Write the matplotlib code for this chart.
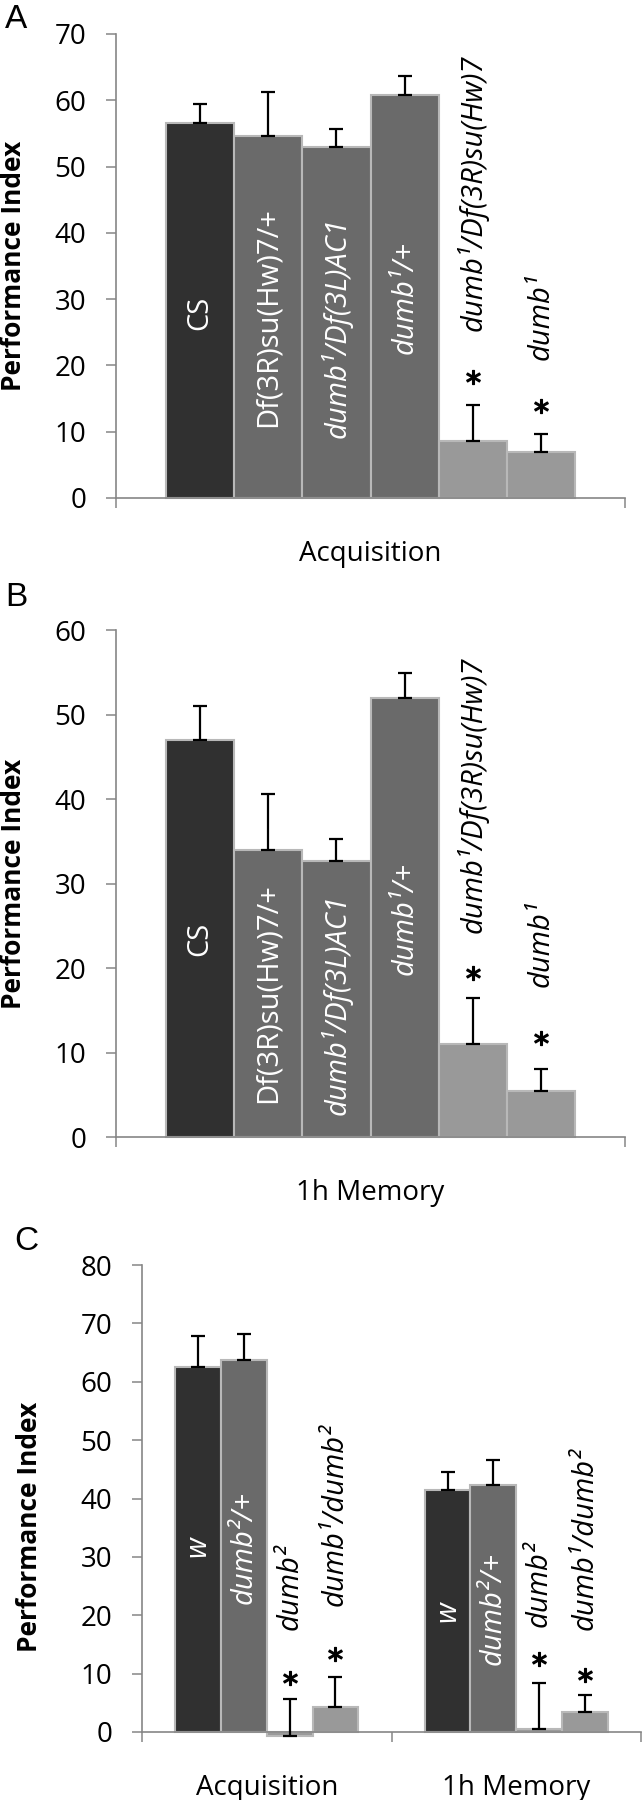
import numpy as np
import matplotlib
matplotlib.use("Agg")
import matplotlib.pyplot as plt

plt.rcParams['font.family'] = ['Open Sans', 'DejaVu Sans']

# ---- data ----
ab_genotypes = ['CS', 'Df(3R)su(Hw)7/+', 'dumb¹/Df(3L)AC1', 'dumb¹/+',
                'dumb¹/Df(3R)su(Hw)7', 'dumb¹']
a_pi = [56.5, 54.6, 53.0, 60.8, 8.6, 7.0]
a_sem = [2.9, 6.6, 2.6, 2.9, 5.5, 2.7]
b_pi = [47.0, 34.0, 32.7, 52.0, 11.0, 5.5]
b_sem = [4.0, 6.6, 2.6, 2.9, 5.5, 2.6]
ab_signif = [False, False, False, False, True, True]

c_genotypes = ['w', 'dumb²/+', 'dumb²', 'dumb¹/dumb²']
c_phases = ['Acquisition', '1h Memory']
c_acq_pi = [62.5, 63.8, -0.6, 4.3]
c_acq_sem = [5.3, 4.4, 6.2, 5.2]
c_mem_pi = [41.5, 42.3, 0.5, 3.5]
c_mem_sem = [3.0, 4.3, 7.9, 2.9]
c_signif = [False, False, True, True]

# ---- styling / layout ----
DARK, MID, LIGHT = '#303030', '#6a6a6a', '#999999'
EDGE = '#b8b8b8'
AXCOL = '#868686'
ab_colors = [DARK, MID, MID, MID, LIGHT, LIGHT]
ab_italic = [False, False, True, True, True, True]
ab_txtcol = ['white'] * 4 + ['black'] * 2
c_colors = [DARK, MID, LIGHT, LIGHT]
c_italic = [True] * 4
c_txtcol = ['white', 'white', 'black', 'black']

# label anchor (y in data units) and whether it's centered or bottom-anchored
a_lab_y = [28.0, 10.7, 9.0, 21.7, 25.2, 20.8]
b_lab_y = [23.5, 4.0, 2.6, 19.2, 24.2, 17.8]
ab_lab_va = ['center', 'bottom', 'bottom', 'bottom', 'bottom', 'bottom']
a_star_y = [18.2, 13.9]
b_star_y = [19.4, 11.7]
c_lab_y = [[31.8, 22.0, 17.4, 21.6], [20.7, 11.5, 18.0, 17.4]]
c_lab_va = ['center', 'bottom', 'bottom', 'bottom']
c_star_y = [[9.2, 13.4], [12.5, 9.8]]

W, H = 643, 1800
GAP = 1.45
LABEL_SIZE = 21
fig = plt.figure(figsize=(W / 100, H / 100), dpi=100)


def px_axes(left, right, y0, ytop):
    return fig.add_axes([left / W, 1 - y0 / H, (right - left) / W, (y0 - ytop) / H])


def style_axes(ax, ymax, ystep, ncat, catnames):
    ax.set_ylim(0, ymax)
    ax.set_xlim(-0.5, ncat - 0.5)
    ax.set_yticks(np.arange(0, ymax + 1, ystep))
    for s in ['top', 'right']:
        ax.spines[s].set_visible(False)
    for s in ['left', 'bottom']:
        ax.spines[s].set_color(AXCOL)
        ax.spines[s].set_linewidth(1.2)
    ax.tick_params(axis='y', direction='out', length=7.5, width=1.1, color=AXCOL,
                   labelsize=20, pad=14)
    ax.set_xticks(np.arange(-0.5, ncat, 1.0))
    ax.set_xticklabels([])
    ax.tick_params(axis='x', which='major', direction='out', length=7.5, width=1.1,
                   color=AXCOL)
    ax.set_xticks(np.arange(ncat), minor=True)
    ax.set_xticklabels(catnames, minor=True, fontsize=20)
    ax.tick_params(axis='x', which='minor', length=0, pad=30)


def draw_group(ax, k, names, vals, errs, colors, italic, txtcol, lab_y, lab_va,
               signif, star_y):
    n = len(vals)
    w = 1.0 / (n + GAP)
    xs = k + (np.arange(n) - (n - 1) / 2) * w
    ax.bar(xs, vals, width=w, color=colors, edgecolor=EDGE, linewidth=1.5,
           clip_on=False, zorder=2)
    ax.errorbar(xs, vals, yerr=[np.zeros(n), errs], fmt='none', ecolor='black',
                elinewidth=1.6, capsize=5, capthick=1.6, zorder=3, clip_on=False)
    for i in range(n):
        ax.text(xs[i], lab_y[i], names[i], rotation=90, ha='center', va=lab_va[i],
                color=txtcol[i], fontsize=LABEL_SIZE,
                style='italic' if italic[i] else 'normal', zorder=4)
    sx = [xs[i] for i in range(n) if signif[i]]
    ax.plot(sx, star_y, linestyle='none', marker='$*$', markersize=10,
            color='black', zorder=4)


def ylabel(x, y):
    fig.text(x / W, 1 - y / H, 'Performance Index', rotation=90, ha='center',
             va='center', fontsize=19, fontweight='bold')


def panel_letter(x, y, s):
    fig.text(x / W, 1 - y / H, s, ha='center', va='center', fontsize=24,
             family='Liberation Sans')


# Panel A
axA = px_axes(116, 625, 498, 34)
style_axes(axA, 70, 10, 1, ['Acquisition'])
draw_group(axA, 0, ab_genotypes, a_pi, a_sem, ab_colors, ab_italic, ab_txtcol,
           a_lab_y, ab_lab_va, ab_signif, a_star_y)
ylabel(14, 266)
panel_letter(16, 19, 'A')

# Panel B
axB = px_axes(116, 625, 1137, 630)
style_axes(axB, 60, 10, 1, ['1h Memory'])
draw_group(axB, 0, ab_genotypes, b_pi, b_sem, ab_colors, ab_italic, ab_txtcol,
           b_lab_y, ab_lab_va, ab_signif, b_star_y)
ylabel(14, 884)
panel_letter(16, 598, 'B')

# Panel C
axC = px_axes(142, 641, 1732, 1265)
style_axes(axC, 80, 10, 2, c_phases)
draw_group(axC, 0, c_genotypes, c_acq_pi, c_acq_sem, c_colors, c_italic, c_txtcol,
           c_lab_y[0], c_lab_va, c_signif, c_star_y[0])
draw_group(axC, 1, c_genotypes, c_mem_pi, c_mem_sem, c_colors, c_italic, c_txtcol,
           c_lab_y[1], c_lab_va, c_signif, c_star_y[1])
ylabel(30, 1527)
panel_letter(26, 1241, 'C')

fig.savefig('out.png', dpi=100)
